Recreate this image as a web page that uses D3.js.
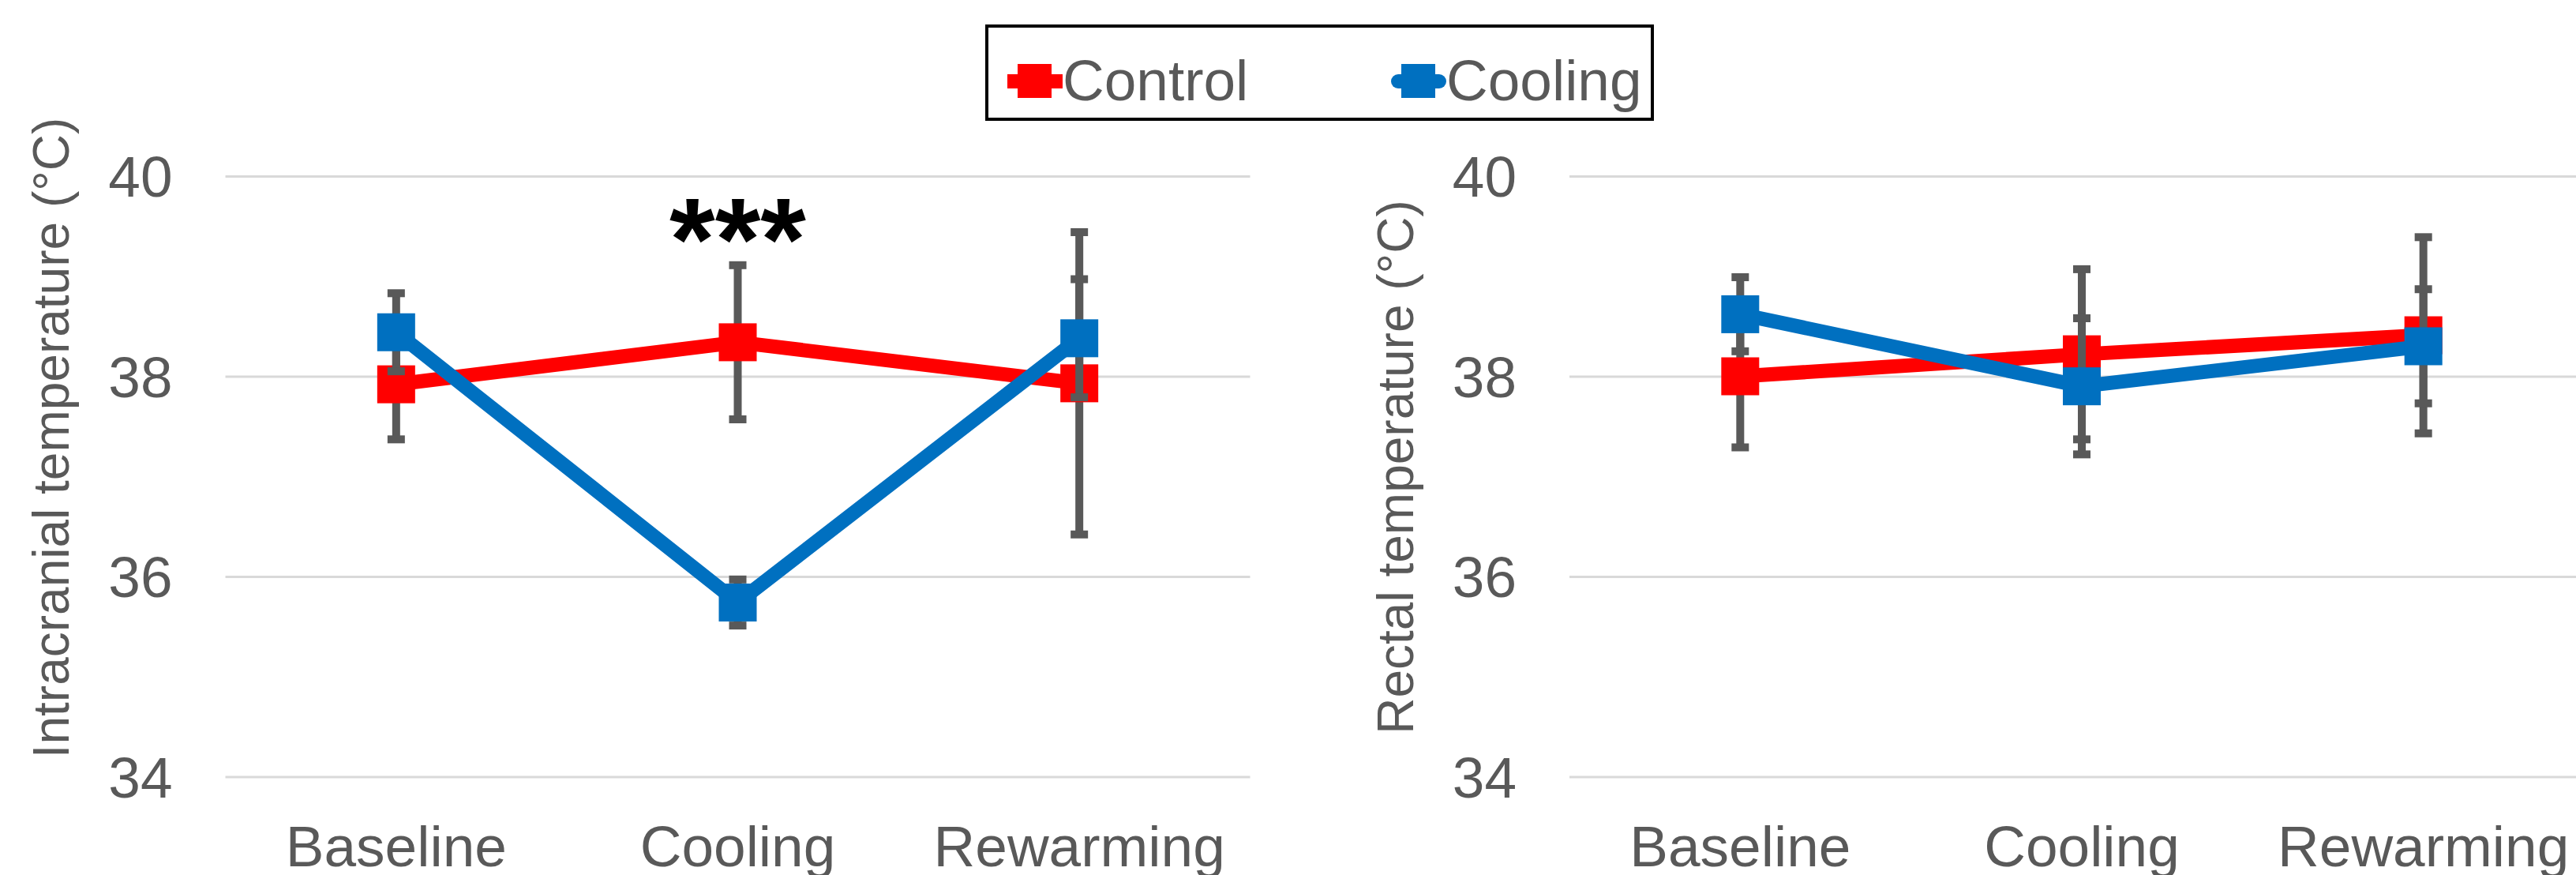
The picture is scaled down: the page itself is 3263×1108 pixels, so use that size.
<!DOCTYPE html>
<html>
<head>
<meta charset="utf-8">
<script src="https://cdn.jsdelivr.net/npm/d3@7"></script>
<style>
  body { margin: 0; background: #fff; }
  svg { display: block; font-family: "Liberation Sans", Arial, sans-serif; }
</style>
</head>
<body>
<div id="svg-container"></div>
<script>
// Categories and tick values
var categories = ["Baseline", "Cooling", "Rewarming"];
var yTicks = [34, 36, 38, 40];
var seriesNames = ["Control", "Cooling"];

// Intracranial temperature (left chart)
var icControl = [37.92, 38.34, 37.93];
var icControlErr = [0.55, 0.77, 1.51];
var icCooling = [38.44, 35.74, 38.38];
var icCoolingErr = [0.39, 0.23, 0.59];

// Rectal temperature (right chart)
var reControl = [38.00, 38.22, 38.41];
var reControlErr = [0.71, 0.85, 0.98];
var reCooling = [38.62, 37.90, 38.30];
var reCoolingErr = [0.37, 0.68, 0.57];

var parameters = {
    "width": 3263,
    "height": 1108,
    "plot-top": 223,
    "plot-bottom": 983.5,
    "plot-width": 1298,
    "text-color": "#595959",
    "grid-color": "#D9D9D9",
    "err-color": "#595959",
    "colors": ["#FF0000", "#0070C0"]
};

var svg = d3.select("#svg-container").append("svg")
    .attr("width", parameters["width"])
    .attr("height", parameters["height"]);

var y = d3.scaleLinear()
    .domain([34, 40])
    .range([parameters["plot-bottom"], parameters["plot-top"]]);

// Draw one panel
function drawPanel(left, title, titleY, control, controlErr, cooling, coolingErr) {
    var x = d3.scaleBand()
        .domain(categories)
        .range([left, left + parameters["plot-width"]]);
    var cx = function(d) { return x(d) + x.bandwidth() / 2; };

    var g = svg.append("g");

    // horizontal gridlines
    g.append("g")
        .attr("transform", "translate(" + left + ",0)")
        .call(d3.axisLeft(y).tickValues(yTicks).tickSize(-parameters["plot-width"]).tickFormat(""))
        .call(function(a) {
            a.select(".domain").remove();
            a.selectAll("line").attr("stroke", parameters["grid-color"]).attr("stroke-width", 3);
        });

    // y tick labels
    g.append("g")
        .attr("transform", "translate(" + (left - 67) + ",0)")
        .call(d3.axisLeft(y).tickValues(yTicks).tickFormat(d3.format("d")).tickSize(0).tickPadding(0))
        .call(function(a) {
            a.select(".domain").remove();
            a.selectAll("text")
                .attr("font-size", 73)
                .attr("font-family", "Liberation Sans, Arial, sans-serif")
                .attr("fill", parameters["text-color"])
                .attr("dy", "0.35em");
        });

    // x tick labels
    g.append("g")
        .attr("transform", "translate(0,1096.5)")
        .call(d3.axisBottom(x).tickSize(0).tickPadding(0))
        .call(function(a) {
            a.select(".domain").remove();
            a.selectAll("text")
                .attr("font-size", 73)
                .attr("font-family", "Liberation Sans, Arial, sans-serif")
                .attr("fill", parameters["text-color"])
                .attr("dy", 0);
        });

    // axis title
    g.append("text")
        .attr("transform", "translate(" + titleY[0] + "," + titleY[1] + ") rotate(-90)")
        .attr("text-anchor", "middle")
        .attr("font-size", 64)
        .attr("fill", parameters["text-color"])
        .text(title);

    var series = [
        { vals: control, errs: controlErr, color: parameters["colors"][0] },
        { vals: cooling, errs: coolingErr, color: parameters["colors"][1] }
    ];

    var line = d3.line()
        .x(function(d) { return cx(d.cat); })
        .y(function(d) { return y(d.v); });

    series.forEach(function(s) {
        var pts = categories.map(function(c, i) { return { cat: c, v: s.vals[i], e: s.errs[i] }; });

        g.append("path")
            .datum(pts)
            .attr("d", line)
            .attr("fill", "none")
            .attr("stroke", s.color)
            .attr("stroke-width", 18)
            .attr("stroke-linejoin", "round");

        // error bars
        var eb = g.append("g").selectAll("g").data(pts).enter().append("g");
        eb.append("line")
            .attr("x1", function(d) { return cx(d.cat); })
            .attr("x2", function(d) { return cx(d.cat); })
            .attr("y1", function(d) { return y(d.v - d.e); })
            .attr("y2", function(d) { return y(d.v + d.e); })
            .attr("stroke", parameters["err-color"])
            .attr("stroke-width", 10);
        eb.selectAll("rect").data(function(d) { return [d.v - d.e, d.v + d.e].map(function(v) { return { cat: d.cat, v: v }; }); })
            .enter().append("rect")
            .attr("x", function(d) { return cx(d.cat) - 11; })
            .attr("y", function(d) { return y(d.v) - 5; })
            .attr("width", 22)
            .attr("height", 10)
            .attr("fill", parameters["err-color"]);

        // markers
        g.append("g").selectAll("rect").data(pts).enter().append("rect")
            .attr("x", function(d) { return cx(d.cat) - 24; })
            .attr("y", function(d) { return y(d.v) - 24; })
            .attr("width", 48)
            .attr("height", 48)
            .attr("fill", s.color);
    });

    return x;
}

var xLeft = drawPanel(285.5, "Intracranial temperature (°C)", [87, 554.5], icControl, icControlErr, icCooling, icCoolingErr);
drawPanel(1988, "Rectal temperature (°C)", [1790, 591.5], reControl, reControlErr, reCooling, reCoolingErr);

// significance marker over the Cooling point
svg.append("text")
    .attr("x", xLeft("Cooling") + xLeft.bandwidth() / 2)
    .attr("y", y(40) + 131)
    .attr("text-anchor", "middle")
    .attr("font-size", 148)
    .attr("font-weight", "bold")
    .attr("fill", "#000")
    .text("***");

// Legend
var legend = svg.append("g");
legend.append("rect")
    .attr("x", 1250)
    .attr("y", 33)
    .attr("width", 843)
    .attr("height", 118)
    .attr("fill", "#fff")
    .attr("stroke", "#000")
    .attr("stroke-width", 4);

var legendX = [1276, 1762];
seriesNames.forEach(function(name, i) {
    var lx = legendX[i];
    legend.append("line")
        .attr("x1", lx + (i == 1 ? 9 : 0))
        .attr("x2", lx + 70 - (i == 1 ? 9 : 0))
        .attr("y1", 103)
        .attr("y2", 103)
        .attr("stroke", parameters["colors"][i])
        .attr("stroke-width", 18)
        .attr("stroke-linecap", i == 1 ? "round" : "butt");
    legend.append("rect")
        .attr("x", lx + 13)
        .attr("y", 81)
        .attr("width", 43)
        .attr("height", 43)
        .attr("fill", parameters["colors"][i]);
    legend.append("text")
        .attr("x", lx + 70)
        .attr("y", 127)
        .attr("font-size", 73)
        .attr("fill", parameters["text-color"])
        .text(name);
});
</script>
</body>
</html>
